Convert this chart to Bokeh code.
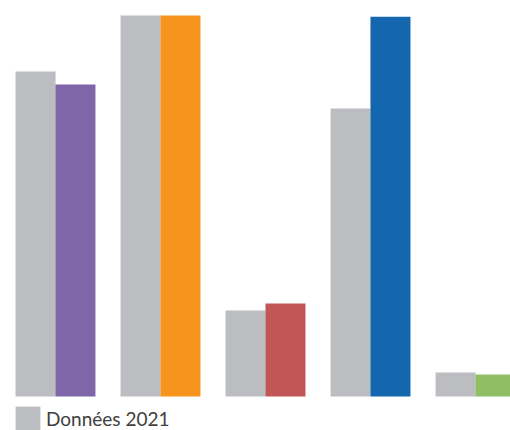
from bokeh.plotting import figure
from bokeh.models import ColumnDataSource, Range1d, Legend, LegendItem
from bokeh.embed import file_html
from bokeh.resources import INLINE

# Data
groups = [0, 1, 2, 3, 4]
values_2021 = [85.3, 100.0, 22.6, 75.6, 6.3]
values_current = [81.9, 100.0, 24.4, 99.7, 5.8]
legend_label = "Données 2021"

# Styles
gray = "#BCBDC0"
colors = ["#7E66A8", "#F7941D", "#C25556", "#1467AF", "#8FBF64"]
bar_w = 0.381
off = 0.19

p = figure(width=510, height=430, output_backend="svg", toolbar_location=None,
           x_range=Range1d(-0.5238, 4.333), y_range=Range1d(-8.92, 103.94),
           min_border=0, outline_line_color=None)
p.axis.visible = False
p.grid.visible = False
p.background_fill_color = "white"
p.border_fill_color = "white"

src_a = ColumnDataSource(dict(x=[g - off for g in groups], top=values_2021))
src_b = ColumnDataSource(dict(x=[g + off for g in groups], top=values_current, color=colors))

ra = p.vbar(x="x", top="top", bottom=0, width=bar_w, source=src_a,
            fill_color=gray, line_color=None)
p.vbar(x="x", top="top", bottom=0, width=bar_w, source=src_b,
       fill_color="color", line_color=None)

legend = Legend(items=[LegendItem(label=legend_label, renderers=[ra])],
                location=(12, -4), orientation="horizontal",
                glyph_width=31, glyph_height=31, label_standoff=3,
                padding=0, margin=0, spacing=0,
                border_line_color=None, background_fill_alpha=0,
                label_text_font="Lato",
                label_text_font_size="19px", label_text_color="#404040")
p.add_layout(legend, "center")

open("out.html", "w").write(file_html(p, INLINE))
